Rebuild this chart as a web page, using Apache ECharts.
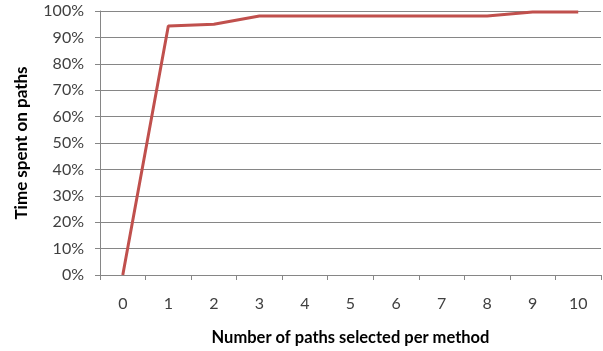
<!DOCTYPE html>
<html>
<head>
<meta charset="utf-8">
<script src="https://cdn.jsdelivr.net/npm/echarts@6/dist/echarts.min.js"></script>
<style>
  html, body { margin: 0; padding: 0; background: #fff; }
  #chart { width: 603px; height: 351px; }
</style>
</head>
<body>
<div id="chart"></div>
<script>
// Number of paths selected per method
const categories = ['0', '1', '2', '3', '4', '5', '6', '7', '8', '9', '10'];
// Share of time spent on the selected paths (%)
const timeShare = [0, 94.3, 95.0, 98.1, 98.1, 98.1, 98.1, 98.1, 98.1, 99.6, 99.6];

const font = 'Lato, "Open Sans", "Liberation Sans", sans-serif';
const chart = echarts.init(document.getElementById('chart'));
chart.setOption({
  animation: false,
  grid: { left: 100, right: 2, top: 11, bottom: 73 },
  xAxis: {
    type: 'category',
    data: categories,
    boundaryGap: true,
    name: 'Number of paths selected per method',
    nameLocation: 'middle',
    nameGap: 54,
    nameTextStyle: { fontFamily: font, fontSize: 16.5, fontWeight: 'bold', color: '#000' },
    axisLine: { lineStyle: { color: '#868686', width: 1 } },
    axisTick: { show: true, alignWithLabel: false, length: 5, lineStyle: { color: '#868686' } },
    axisLabel: { fontFamily: font, fontSize: 16, color: '#404040', margin: 21 }
  },
  yAxis: {
    type: 'value',
    min: 0,
    max: 100,
    interval: 10,
    name: 'Time spent on paths',
    nameLocation: 'middle',
    nameGap: 70,
    nameTextStyle: { fontFamily: font, fontSize: 17, fontWeight: 'bold', color: '#000' },
    axisLine: { show: true, lineStyle: { color: '#868686', width: 1 } },
    axisTick: { show: true, length: 5, lineStyle: { color: '#868686' } },
    axisLabel: { fontFamily: font, fontSize: 16, color: '#404040', margin: 16, formatter: '{value}%' },
    splitLine: { lineStyle: { color: '#868686', width: 1 } }
  },
  series: [{
    type: 'line',
    data: timeShare,
    symbol: 'none',
    lineStyle: { color: '#C0504D', width: 3 },
    itemStyle: { color: '#C0504D' }
  }]
});
</script>
</body>
</html>
